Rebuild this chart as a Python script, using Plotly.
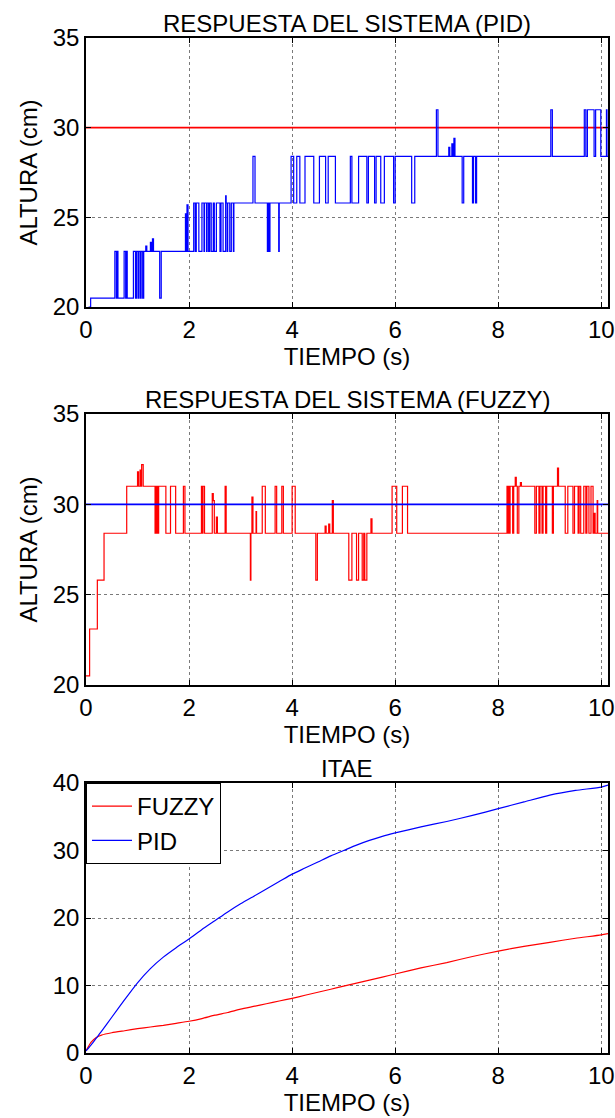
import plotly.graph_objects as go

# ---------------- data ----------------
T_END = 10.13
SETPOINT = 30

# PID response (step-wise samples: time, height)
pid_t = [0.05, 0.09, 0.56, 0.59, 0.60, 0.62, 0.74, 0.77, 0.78, 0.80,
         0.92, 0.96, 0.98, 1.01, 1.03, 1.06, 1.07, 1.10, 1.12, 1.16,
         1.18, 1.25, 1.27, 1.29, 1.31, 1.43, 1.46, 1.93, 1.95, 1.96,
         1.98, 2.09, 2.12, 2.14, 2.19, 2.25, 2.29, 2.30, 2.34, 2.35,
         2.38, 2.40, 2.43, 2.47, 2.49, 2.53, 2.60, 2.62, 2.66, 2.71,
         2.72, 2.74, 2.75, 2.79, 2.82, 2.86, 2.87, 3.24, 3.28, 3.52,
         3.54, 3.55, 3.57, 3.74, 3.75, 3.98, 4.03, 4.09, 4.15, 4.25,
         4.42, 4.53, 4.65, 4.70, 4.84, 5.13, 5.16, 5.29, 5.45, 5.48,
         5.60, 5.63, 5.72, 5.79, 5.97, 6.00, 6.32, 6.38, 6.80, 6.83,
         7.04, 7.06, 7.10, 7.12, 7.14, 7.16, 7.30, 7.33, 7.50, 7.52,
         7.56, 7.58, 9.02, 9.05, 9.67, 9.70, 9.73, 9.86, 9.89, 9.99,
         10.10, 10.11, 10.13]
pid_y = [20.0, 20.5, 23.1, 20.5, 23.1, 20.5, 23.1, 20.5, 23.1, 20.5,
         23.1, 20.5, 23.1, 20.5, 23.1, 20.5, 23.1, 20.5, 23.1, 23.4,
         23.1, 23.6, 23.1, 23.8, 23.1, 20.5, 23.1, 25.2, 23.1, 25.7,
         23.1, 25.8, 23.1, 25.8, 23.1, 25.8, 23.1, 25.8, 23.1, 25.8,
         23.1, 25.8, 23.1, 25.8, 23.1, 25.8, 23.1, 25.8, 23.1, 26.2,
         25.8, 23.1, 25.8, 23.1, 25.8, 23.1, 25.8, 28.4, 25.8, 23.1,
         25.8, 23.1, 25.8, 23.1, 25.8, 28.4, 25.8, 28.4, 25.8, 28.4,
         25.8, 28.4, 25.8, 28.4, 25.8, 28.4, 25.8, 28.4, 25.8, 28.4,
         25.8, 28.4, 25.8, 28.4, 25.8, 28.4, 25.8, 28.4, 31.0, 28.4,
         28.9, 28.4, 29.1, 28.4, 29.4, 28.4, 25.8, 28.4, 25.8, 28.4,
         25.8, 28.4, 31.0, 28.4, 31.0, 28.4, 31.0, 28.4, 31.0, 28.4,
         31.0, 28.4, 28.4]

# FUZZY response
fuzzy_t = [0.00, 0.07, 0.22, 0.35, 0.79, 1.00, 1.02, 1.05, 1.07, 1.08,
           1.11, 1.34, 1.35, 1.37, 1.38, 1.40, 1.41, 1.55, 1.64, 1.74,
           1.89, 1.92, 2.24, 2.26, 2.27, 2.30, 2.45, 2.47, 2.49, 2.53,
           2.55, 2.70, 2.72, 3.19, 3.20, 3.22, 3.24, 3.30, 3.31, 3.42,
           3.48, 3.67, 3.70, 3.80, 3.83, 4.00, 4.06, 4.46, 4.49, 4.64,
           4.66, 4.71, 4.73, 4.78, 4.80, 5.10, 5.16, 5.25, 5.29, 5.36,
           5.39, 5.41, 5.45, 5.53, 5.55, 5.94, 6.03, 6.14, 6.24, 8.17,
           8.19, 8.20, 8.22, 8.23, 8.28, 8.30, 8.33, 8.35, 8.37, 8.40,
           8.43, 8.45, 8.71, 8.74, 8.79, 8.81, 8.85, 8.87, 8.92, 8.94,
           9.05, 9.07, 9.15, 9.17, 9.30, 9.35, 9.45, 9.48, 9.55, 9.57,
           9.60, 9.66, 9.70, 9.72, 9.76, 9.80, 9.84, 9.86, 9.88, 9.92,
           9.93, 10.13]
fuzzy_y = [20.5, 23.1, 25.8, 28.4, 31.0, 31.8, 31.0, 31.9, 31.0, 32.2,
           31.0, 28.4, 31.0, 28.4, 31.0, 28.4, 31.0, 28.4, 31.0, 28.4,
           31.0, 28.4, 31.0, 28.4, 31.0, 28.4, 30.6, 30.2, 28.4, 29.3,
           28.4, 31.0, 28.4, 25.8, 28.4, 30.4, 28.4, 29.6, 28.4, 31.0,
           28.4, 31.0, 28.4, 31.0, 28.4, 31.0, 28.4, 25.8, 28.4, 28.8,
           28.4, 28.9, 28.4, 30.2, 28.4, 25.8, 28.4, 25.8, 28.4, 25.8,
           28.4, 25.8, 28.4, 29.2, 28.4, 31.0, 28.4, 31.0, 28.4, 31.0,
           28.4, 31.0, 28.4, 31.0, 28.4, 31.0, 31.5, 31.0, 28.4, 31.0,
           31.2, 31.0, 28.4, 31.0, 28.4, 31.0, 28.4, 31.0, 28.4, 31.0,
           28.4, 31.0, 32.0, 31.0, 28.4, 31.0, 28.4, 31.0, 28.4, 31.0,
           28.4, 31.0, 28.4, 31.0, 28.4, 31.0, 28.4, 29.5, 28.4, 30.2,
           28.4, 28.4]

# ITAE
itae_t = [0.0, 0.1, 0.2, 0.3, 0.5, 0.75, 1.0, 1.25, 1.5, 1.75, 2.0, 2.25,
          2.5, 2.75, 3.0, 3.25, 3.5, 3.75, 4.0, 4.25, 4.5, 4.75, 5.0, 5.25,
          5.5, 5.75, 6.0, 6.5, 7.0, 7.5, 8.0, 8.5, 9.0, 9.5, 10.0, 10.13]
itae_pid = [0.3, 1.2, 2.2, 3.2, 5.3, 7.9, 10.4, 12.5, 14.2, 15.6, 16.9, 18.3,
            19.6, 20.9, 22.1, 23.2, 24.3, 25.4, 26.5, 27.4, 28.3, 29.2, 30.0, 30.8,
            31.5, 32.1, 32.6, 33.5, 34.3, 35.2, 36.2, 37.2, 38.2, 38.9, 39.4, 39.7]
itae_fuzzy = [0.3, 1.6, 2.3, 2.65, 3.0, 3.3, 3.6, 3.85, 4.1, 4.4, 4.7, 5.1,
              5.6, 6.0, 6.5, 6.9, 7.3, 7.7, 8.1, 8.55, 9.0, 9.45, 9.9, 10.35,
              10.8, 11.25, 11.7, 12.6, 13.4, 14.3, 15.1, 15.8, 16.4, 17.0, 17.5, 17.7]

# ---------------- figure ----------------
W, H = 615, 1118
FONT = dict(family="Liberation Sans, Arial, Helvetica, sans-serif", size=24, color="black")
BLUE, RED = "#0000ff", "#ff0000"

x_dom = [86 / W, 608 / W]
y_doms = [[1 - 307 / H, 1 - 38 / H],
          [1 - 685 / H, 1 - 414 / H],
          [1 - 1053 / H, 1 - 783 / H]]

fig = go.Figure()

# Panel 1: PID
fig.add_trace(go.Scatter(x=[0, T_END], y=[SETPOINT, SETPOINT], mode="lines",
                         line=dict(color=RED, width=1.8), showlegend=False,
                         xaxis="x", yaxis="y"))
fig.add_trace(go.Scatter(x=pid_t, y=pid_y, mode="lines", line=dict(color=BLUE, width=1.2, shape="hv"),
                         showlegend=False, xaxis="x", yaxis="y"))

# Panel 2: FUZZY
fig.add_trace(go.Scatter(x=fuzzy_t, y=fuzzy_y, mode="lines", line=dict(color=RED, width=1.2, shape="hv"),
                         showlegend=False, xaxis="x2", yaxis="y2"))
fig.add_trace(go.Scatter(x=[0, T_END], y=[SETPOINT, SETPOINT], mode="lines",
                         line=dict(color=BLUE, width=1.8), showlegend=False,
                         xaxis="x2", yaxis="y2"))

# Panel 3: ITAE
fig.add_trace(go.Scatter(x=itae_t, y=itae_fuzzy, mode="lines", name="FUZZY",
                         line=dict(color=RED, width=1.2, shape="spline", smoothing=0.6),
                         xaxis="x3", yaxis="y3"))
fig.add_trace(go.Scatter(x=itae_t, y=itae_pid, mode="lines", name="PID",
                         line=dict(color=BLUE, width=1.2, shape="spline", smoothing=0.6),
                         xaxis="x3", yaxis="y3"))

axis_common = dict(showline=True, linecolor="black", linewidth=1.6, mirror="ticks",
                   ticks="inside", ticklen=5, tickcolor="black", tickwidth=1.2,
                   showgrid=True, gridcolor="#7a7a7a", gridwidth=1, griddash="dot",
                   zeroline=False, tickfont=FONT, automargin=False)

layout = dict(width=W, height=H, margin=dict(l=0, r=0, t=0, b=0),
              paper_bgcolor="white", plot_bgcolor="white", font=FONT,
              showlegend=True,
              legend=dict(x=86 / W, y=1 - 783 / H, xanchor="left", yanchor="top",
                          bgcolor="white", bordercolor="black", borderwidth=1,
                          font=FONT, tracegroupgap=12, itemwidth=40))

titles = ["RESPUESTA DEL SISTEMA (PID)", "RESPUESTA DEL SISTEMA (FUZZY)", "ITAE"]
yranges = [[20, 35], [20, 35], [0, 40]]
ydticks = [5, 5, 10]
ytitles = ["ALTURA (cm)", "ALTURA (cm)", ""]
annotations = []
for i in range(3):
    sx = "" if i == 0 else str(i + 1)
    layout["xaxis" + sx] = dict(axis_common, domain=x_dom, anchor="y" + sx,
                                range=[0, T_END], tick0=0, dtick=2,
                                title=dict(text="TIEMPO (s)", font=FONT, standoff=2))
    layout["yaxis" + sx] = dict(axis_common, domain=y_doms[i], anchor="x" + sx,
                                range=yranges[i], tick0=0, dtick=ydticks[i],
                                title=dict(text=ytitles[i], font=FONT, standoff=8))
    annotations.append(dict(text=titles[i], xref="paper", yref="paper",
                            x=(x_dom[0] + x_dom[1]) / 2, y=y_doms[i][1],
                            xanchor="center", yanchor="bottom", showarrow=False,
                            font=FONT, yshift=-1))
layout["annotations"] = annotations
fig.update_layout(**layout)

fig.write_html("out.html")
